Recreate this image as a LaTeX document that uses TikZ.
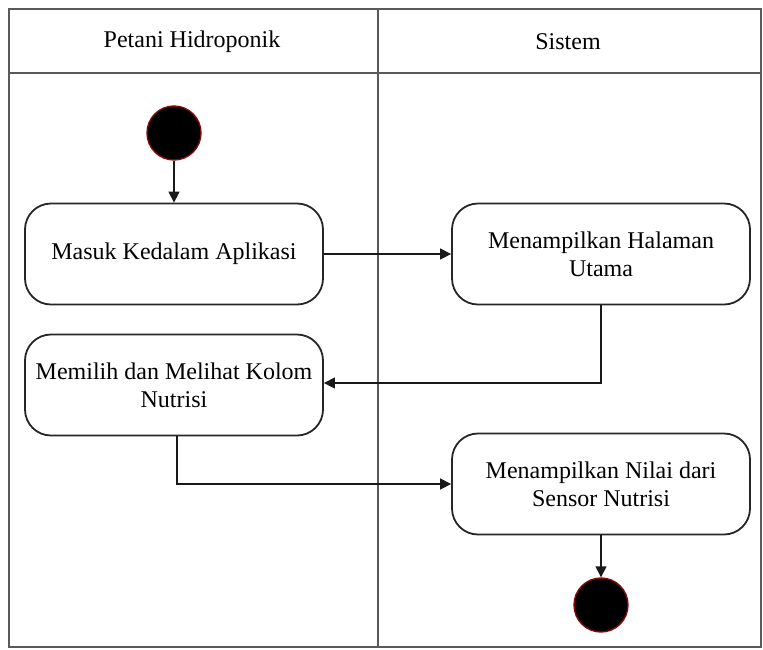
\documentclass[tikz,border=0pt]{standalone}
\usepackage{fontspec}
\setmainfont{Liberation Serif}
\usetikzlibrary{arrows.meta}
\definecolor{frame}{RGB}{90,90,90}
\definecolor{rim}{RGB}{130,10,10}
\begin{document}
\begin{tikzpicture}[x=1pt,y=-1pt,
  act/.style={draw=black!85,line width=1.8pt,rounded corners=26pt,minimum width=298pt,minimum height=101pt,align=center,font=\fontsize{24}{28}\selectfont,inner sep=2pt},
  dot/.style={circle,fill=black,draw=rim,line width=1.4pt,minimum size=54pt,inner sep=0pt},
  flow/.style={draw=black!90,line width=1.4pt,-{Triangle[length=11pt,width=11pt]}},
  lane/.style={draw=frame,line width=1.6pt},
  head/.style={font=\fontsize{24}{28}\selectfont}]
\useasboundingbox (0,0) rectangle (763,649);
\fill[white] (0,0) rectangle (763,649);
% swimlane frame
\draw[lane] (9,9) rectangle (761,647);
\draw[lane] (9,73) -- (761,73);
\draw[lane] (378,9) -- (378,647);
\node[head] (h1) at (192,42) {Petani Hidroponik};
\node[head] (h2) at (568,42) {Sistem};
% nodes
\node[dot] (start) at (174,133) {};
\node[act] (a1) at (174,254) {Masuk Kedalam Aplikasi};
\node[act] (a2) at (601,254) {Menampilkan Halaman\\Utama};
\node[act] (a3) at (174,385) {Memilih dan Melihat Kolom\\Nutrisi};
\node[act] (a4) at (601,484) {Menampilkan Nilai dari\\Sensor Nutrisi};
\node[dot] (end) at (601,605) {};
% connectors
\draw[flow] (start) -- (a1);
\draw[flow] (a1) -- (a2);
\draw[flow] (a2.south) |- (a3.east |- 0,383);
\draw[flow] (177,436) |- (a4.west);
\draw[flow] (a4) -- (end);
\end{tikzpicture}
\end{document}
